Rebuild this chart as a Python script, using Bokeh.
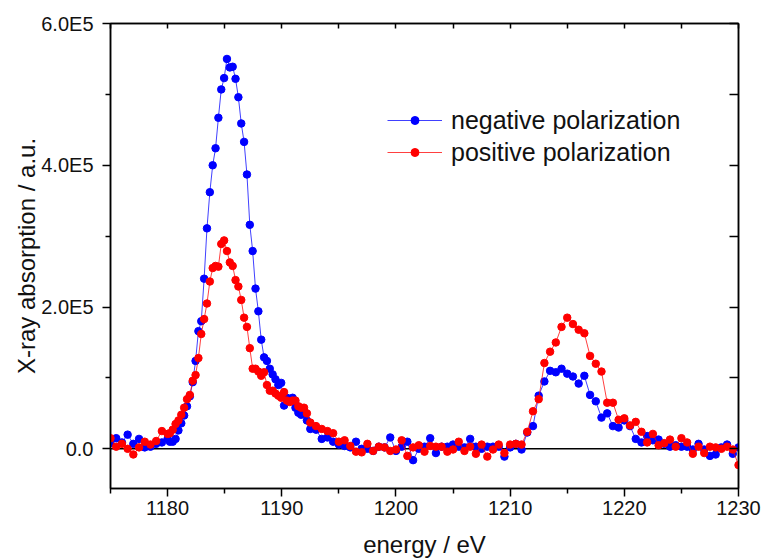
from bokeh.plotting import figure
from bokeh.models import (LinearAxis, Span, Legend, LegendItem, FixedTicker,
                          CustomJSTickFormatter, Range1d)
from bokeh.embed import file_html
from bokeh.resources import INLINE

# energy grid (eV): coarse pre-edge, fine around the L3 edge, coarse afterwards
energy = [1175.0, 1175.5, 1176.0, 1176.5, 1177.0, 1177.5, 1178.0, 1178.5, 1179.0, 1179.5, 1180.0,
          1180.2, 1180.45, 1180.7, 1180.95, 1181.2, 1181.45, 1181.7, 1181.95, 1182.2, 1182.45,
          1182.7, 1182.95, 1183.2, 1183.45, 1183.7, 1183.95, 1184.2, 1184.45, 1184.7, 1184.95,
          1185.2, 1185.45, 1185.7, 1185.95, 1186.2, 1186.45, 1186.7, 1186.95, 1187.2, 1187.45,
          1187.7, 1187.95, 1188.2, 1188.45, 1188.7, 1188.95, 1189.2, 1189.45, 1189.7, 1189.95,
          1190.2, 1190.45, 1190.7, 1190.95, 1191.2, 1191.45, 1191.7, 1191.95, 1192.2,
          1192.5, 1193.0, 1193.5, 1194.0, 1194.5, 1195.0, 1195.5, 1196.0, 1196.5, 1197.0,
          1197.5, 1198.0, 1198.5, 1199.0, 1199.5, 1200.0, 1200.5, 1201.0, 1201.5, 1202.0,
          1202.5, 1203.0, 1203.5, 1204.0, 1204.5, 1205.0, 1205.5, 1206.0, 1206.5, 1207.0,
          1207.5, 1208.0, 1208.5, 1209.0, 1209.5, 1210.0, 1210.5, 1211.0, 1211.5, 1212.0,
          1212.5, 1213.0, 1213.5, 1214.0, 1214.5, 1215.0, 1215.5, 1216.0, 1216.5, 1217.0,
          1217.5, 1218.0, 1218.5, 1219.0, 1219.5, 1220.0, 1220.5, 1221.0, 1221.5, 1222.0,
          1222.5, 1223.0, 1223.5, 1224.0, 1224.5, 1225.0, 1225.5, 1226.0, 1226.5, 1227.0,
          1227.5, 1228.0, 1228.5, 1229.0, 1229.5, 1230.0]

# absorption in units of 1E5
negative = [0.08, 0.15, 0.09, 0.20, 0.07, 0.14, 0.02, 0.03, 0.07, 0.09, 0.14,
            0.10, 0.10, 0.14, 0.26, 0.36, 0.47, 0.60, 0.74, 0.94, 1.24,
            1.66, 1.80, 2.40, 3.11, 3.62, 4.00, 4.24, 4.67, 5.07, 5.23,
            5.50, 5.38, 5.39, 5.22, 4.96, 4.59, 4.33, 3.87, 3.16, 2.79,
            2.26, 1.94, 1.54, 1.29, 1.24, 1.13, 1.05, 0.98, 0.90, 0.93,
            0.61, 0.72, 0.70, 0.72, 0.58, 0.51, 0.48, 0.52, 0.40,
            0.28, 0.27, 0.14, 0.16, 0.10, 0.06, 0.04, 0.02, 0.10, 0.00,
            0.00, -0.03, 0.03, 0.02, 0.16, -0.03, 0.03, 0.10, -0.16, 0.00,
            0.03, 0.15, -0.06, 0.03, 0.03, 0.06, 0.03, 0.02, 0.14, 0.03,
            0.00, 0.03, 0.03, 0.03, -0.11, 0.02, 0.07, -0.01, 0.23, 0.32,
            0.75, 0.95, 1.10, 1.08, 1.13, 1.06, 1.02, 0.92, 1.03, 0.76,
            0.67, 0.44, 0.50, 0.32, 0.30, 0.40, 0.32, 0.14, 0.09, 0.18,
            0.12, 0.13, 0.07, 0.03, 0.05, 0.03, 0.03, -0.01, 0.07, -0.01,
            -0.10, -0.08, 0.02, 0.06, -0.07, 0.02]

positive = [0.15, 0.03, 0.07, 0.00, -0.08, 0.02, 0.10, 0.06, 0.11, 0.25, 0.21,
            0.22, 0.27, 0.35, 0.40, 0.48, 0.58, 0.70, 0.76, 0.96, 1.04,
            1.28, 1.62, 1.83, 2.05, 2.36, 2.55, 2.58, 2.57, 2.89, 2.94,
            2.79, 2.63, 2.58, 2.38, 2.29, 2.10, 1.85, 1.72, 1.42, 1.13,
            1.13, 1.09, 1.03, 1.08, 0.90, 0.82, 0.82, 0.78, 0.75, 0.72,
            0.80, 0.68, 0.66, 0.68, 0.68, 0.60, 0.58, 0.58, 0.50,
            0.37, 0.32, 0.28, 0.25, 0.22, 0.10, 0.12, 0.04, -0.04, -0.05,
            0.07, -0.03, 0.03, 0.02, -0.03, -0.01, 0.12, -0.10, 0.02, 0.05,
            -0.04, 0.04, 0.03, 0.03, -0.04, -0.01, 0.10, -0.03, 0.03, -0.07,
            0.06, -0.11, -0.01, 0.06, -0.06, 0.06, 0.07, 0.06, 0.24, 0.53,
            0.70, 1.21, 1.37, 1.50, 1.72, 1.85, 1.76, 1.68, 1.63, 1.31,
            1.20, 1.09, 0.65, 0.65, 0.41, 0.43, 0.33, 0.38, 0.24, 0.09,
            0.21, 0.05, 0.08, 0.13, 0.03, 0.15, 0.09, -0.07, 0.03, -0.06,
            0.03, 0.02, 0.00, 0.03, -0.01, -0.23]

series_labels = ["negative polarization", "positive polarization"]
x_major = [1180, 1190, 1200, 1210, 1220, 1230]
x_minor = [1175, 1185, 1195, 1205, 1215, 1225]
y_major = [0, 2, 4, 6]
y_minor = [1, 3, 5]

FONT = "Liberation Sans"

p = figure(width=764, height=560, x_range=Range1d(1175, 1230), y_range=Range1d(-0.56, 6.0),
           output_backend="svg", toolbar_location=None,
           min_border_left=110, min_border_right=26, min_border_top=23, min_border_bottom=72)
p.xgrid.visible = False
p.ygrid.visible = False
p.outline_line_color = "black"
p.outline_line_width = 1.5
p.background_fill_color = "white"
p.border_fill_color = "white"

p.add_layout(Span(location=0, dimension="width", line_color="black", line_width=1.5,
                  level="underlay"))

bl = p.line(energy, negative, line_color="blue", line_width=1, line_alpha=0.75)
bs = p.scatter(energy, negative, size=7.5, fill_color="blue", line_color="blue")
rl = p.line(energy, positive, line_color="red", line_width=1, line_alpha=0.75)
rs = p.scatter(energy, positive, size=7.5, fill_color="red", line_color="red")

# bottom axis
xa = p.xaxis[0]
xa.ticker = FixedTicker(ticks=x_major, minor_ticks=x_minor)
xa.axis_label = "energy / eV"
xa.major_tick_out = 8
xa.major_tick_in = 0
xa.minor_tick_out = 5
xa.minor_tick_in = 0
xa.axis_line_width = 1.5
xa.major_tick_line_width = 1.5
xa.minor_tick_line_width = 1.5
xa.major_label_text_font = FONT
xa.major_label_text_font_size = "20px"
xa.major_label_text_color = "#111111"
xa.major_label_standoff = 4
xa.axis_label_text_font = FONT
xa.axis_label_text_font_size = "24px"
xa.axis_label_text_font_style = "normal"
xa.axis_label_text_color = "#111111"
xa.axis_label_standoff = 13

# left axis
ya = p.yaxis[0]
ya.ticker = FixedTicker(ticks=y_major, minor_ticks=y_minor)
ya.formatter = CustomJSTickFormatter(code="""
    if (tick == 0) { return "0.0"; }
    return tick.toFixed(1) + "E5";
""")
ya.axis_label = "X-ray absorption / a.u."
ya.major_tick_out = 8
ya.major_tick_in = 0
ya.minor_tick_out = 5
ya.minor_tick_in = 0
ya.axis_line_width = 1.5
ya.major_tick_line_width = 1.5
ya.minor_tick_line_width = 1.5
ya.major_label_text_font = FONT
ya.major_label_text_font_size = "20px"
ya.major_label_text_color = "#111111"
ya.major_label_standoff = 9
ya.axis_label_text_font = FONT
ya.axis_label_text_font_size = "24px"
ya.axis_label_text_font_style = "normal"
ya.axis_label_text_color = "#111111"
ya.axis_label_standoff = -2

blank = CustomJSTickFormatter(code="return '';")

# top axis (ticks pointing in)
top = LinearAxis(ticker=FixedTicker(ticks=x_major + x_minor, minor_ticks=[]),
                 formatter=blank,
                 major_tick_in=5, major_tick_out=0, minor_tick_in=0, minor_tick_out=0,
                 axis_line_width=1.5, major_tick_line_width=1.5, major_label_standoff=0)
p.add_layout(top, "above")

# right axis (ticks pointing in)
right = LinearAxis(ticker=FixedTicker(ticks=[0, 1, 2, 3, 4, 5, 6], minor_ticks=[]),
                   formatter=blank,
                   major_tick_in=9, major_tick_out=0, minor_tick_in=0, minor_tick_out=0,
                   axis_line_width=1.5, major_tick_line_width=1.5, major_label_standoff=0)
p.add_layout(right, "right")

legend = Legend(items=[LegendItem(label=series_labels[0], renderers=[bl, bs]),
                       LegendItem(label=series_labels[1], renderers=[rl, rs])],
                location=(277, 320), glyph_width=55, glyph_height=20,
                label_height=32, spacing=0, padding=10, label_standoff=9,
                label_text_font=FONT, label_text_font_size="25px",
                label_text_color="#111111",
                border_line_color=None, background_fill_alpha=0)
p.add_layout(legend)

open("out.html", "w").write(file_html(p, INLINE))
